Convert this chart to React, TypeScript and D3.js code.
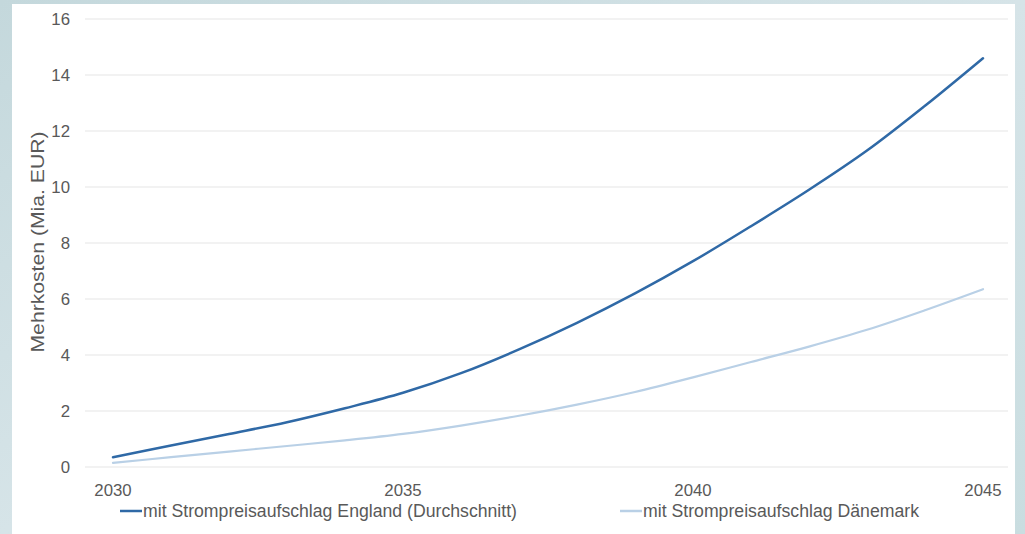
import React from "react";
import * as d3 from "d3";

const years = [2030, 2031, 2032, 2033, 2034, 2035, 2036, 2037, 2038, 2039, 2040, 2041, 2042, 2043, 2044, 2045];
const england = [0.35, 0.77, 1.18, 1.6, 2.1, 2.65, 3.35, 4.2, 5.15, 6.2, 7.35, 8.6, 9.9, 11.3, 12.9, 14.6];
const denmark = [0.15, 0.35, 0.55, 0.75, 0.95, 1.18, 1.48, 1.83, 2.23, 2.68, 3.2, 3.75, 4.3, 4.9, 5.6, 6.35];
const yTicks = [0, 2, 4, 6, 8, 10, 12, 14, 16];
const xTickYears = [2030, 2035, 2040, 2045];
const seriesNames = ["mit Strompreisaufschlag England (Durchschnitt)", "mit Strompreisaufschlag Dänemark"];
const yTitle = "Mehrkosten (Mia. EUR)";

const W = 1025;
const H = 534;
const FONT = "'Liberation Sans', Arial, sans-serif";

export default function App() {
  const x = d3.scaleLinear().domain([2030, 2045]).range([113, 983]);
  const y = d3.scaleLinear().domain([0, 16]).range([467, 19]);
  const line = d3
    .line<number>()
    .x((_, i) => x(years[i]))
    .y((d) => y(d))
    .curve(d3.curveCatmullRom.alpha(0.5));

  const colors = ["#2f69a6", "#b9d0e6"];
  const data = [england, denmark];
  const legendX = [120, 620];
  const legendLen = [374, 276];

  return (
    <div style={{ position: "absolute", left: 0, top: 0 }}>
      <svg width={W} height={H} style={{ display: "block" }}>
        <defs>
          <linearGradient id="bg" x1="0" y1="0" x2="1" y2="1">
            <stop offset="0" stopColor="#c4d8dc" />
            <stop offset="0.5" stopColor="#d6e4e8" />
            <stop offset="1" stopColor="#c9dde0" />
          </linearGradient>
        </defs>
        <rect x={0} y={0} width={W} height={H} fill="url(#bg)" />
        <rect x={12} y={4} width={1003} height={H} fill="#ffffff" />
        {yTicks.map((t) => (
          <g key={t}>
            <line x1={85} x2={1008} y1={y(t)} y2={y(t)} stroke="#e6e6e6" strokeWidth={1.2} />
            <text
              x={70}
              y={y(t)}
              dy="0.35em"
              textAnchor="end"
              fontFamily={FONT}
              fontSize={16.8}
              fill="#595959"
            >
              {t}
            </text>
          </g>
        ))}
        {xTickYears.map((yr) => (
          <text
            key={yr}
            x={x(yr)}
            y={496}
            textAnchor="middle"
            fontFamily={FONT}
            fontSize={16.8}
            fill="#595959"
          >
            {yr}
          </text>
        ))}
        <text
          transform={`translate(44,242) rotate(-90)`}
          textAnchor="middle"
          fontFamily={FONT}
          fontSize={17.5}
          fill="#595959"
          textLength={221}
          lengthAdjust="spacingAndGlyphs"
        >
          {yTitle}
        </text>
        {data.map((d, i) => (
          <path
            key={i}
            d={line(d) || ""}
            fill="none"
            stroke={colors[i]}
            strokeWidth={i === 0 ? 2.5 : 2.2}
            strokeLinecap="round"
          />
        ))}
        {seriesNames.map((n, i) => (
          <g key={n}>
            <line
              x1={legendX[i]}
              x2={legendX[i] + 22}
              y1={511}
              y2={511}
              stroke={colors[i]}
              strokeWidth={2.5}
            />
            <text
              x={legendX[i] + 23}
              y={511}
              dy="0.35em"
              fontFamily={FONT}
              fontSize={17.5}
              fill="#595959"
              textLength={legendLen[i]}
              lengthAdjust="spacingAndGlyphs"
            >
              {n}
            </text>
          </g>
        ))}
      </svg>
    </div>
  );
}
